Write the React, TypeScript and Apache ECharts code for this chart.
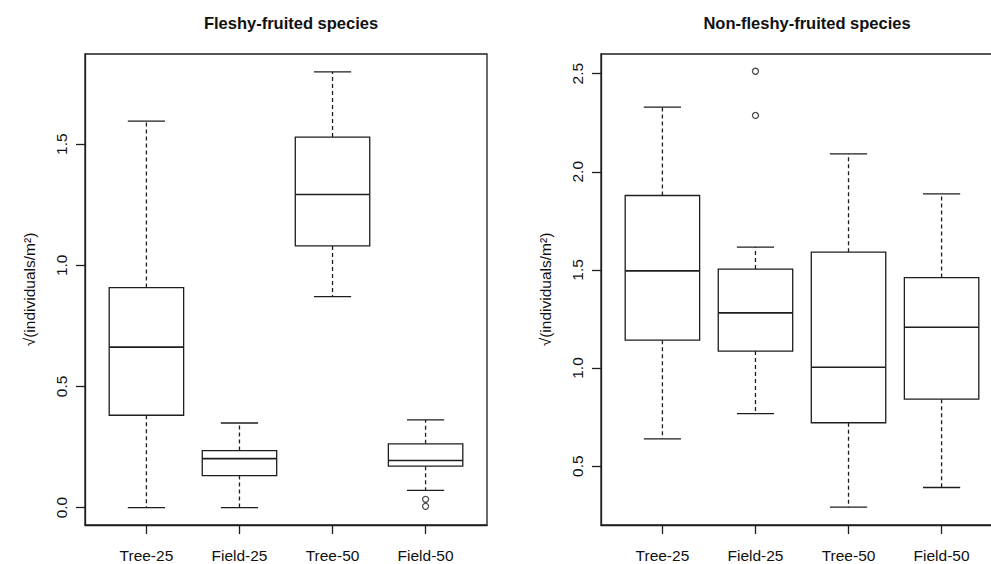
import React, { useEffect, useRef } from "react";
import * as echarts from "echarts";

const categories = ["Tree-25", "Field-25", "Tree-50", "Field-50"];

// [lower whisker, Q1, median, Q3, upper whisker]
const fleshyStats = [
  [0.0, 0.381, 0.662, 0.908, 1.595],
  [0.0, 0.132, 0.202, 0.235, 0.349],
  [0.871, 1.08, 1.292, 1.529, 1.798],
  [0.071, 0.171, 0.194, 0.263, 0.362],
];
// [category index (1-based), value]
const fleshyOutliers = [
  [4, 0.034],
  [4, 0.005],
];

const nonFleshyStats = [
  [0.639, 1.142, 1.495, 1.879, 2.329],
  [0.768, 1.086, 1.281, 1.504, 1.616],
  [0.291, 0.721, 1.004, 1.59, 2.091],
  [0.391, 0.841, 1.208, 1.461, 1.887],
];
const nonFleshyOutliers = [
  [2, 2.512],
  [2, 2.287],
];

const leftTicks = [0, 0.5, 1.0, 1.5];
const rightTicks = [0.5, 1.0, 1.5, 2.0, 2.5];
const xTicks = [1, 2, 3, 4];

const titles = ["Fleshy-fruited species", "Non-fleshy-fruited species"];
const yName = "\u221A(individuals/m\u00B2)";

const FONT = "'Liberation Sans', Arial, Helvetica, sans-serif";
const INK = "#1e1e1e";
const FS = 15.5;

function renderBox(params: any, api: any) {
  const x = api.value(0);
  const pLow = api.coord([x, api.value(1)]);
  const pQ1 = api.coord([x, api.value(2)]);
  const pMed = api.coord([x, api.value(3)]);
  const pQ3 = api.coord([x, api.value(4)]);
  const pHigh = api.coord([x, api.value(5)]);
  const unit = api.size([1, 0])[0];
  const hb = unit * 0.4;
  const hc = unit * 0.2;
  const cx = pMed[0];
  const solid = { stroke: INK, lineWidth: 1.3, fill: "none" };
  const dashed = { stroke: INK, lineWidth: 1.3, lineDash: [4, 3] };
  return {
    type: "group",
    children: [
      { type: "line", shape: { x1: cx, y1: pQ3[1], x2: cx, y2: pHigh[1] }, style: dashed },
      { type: "line", shape: { x1: cx, y1: pQ1[1], x2: cx, y2: pLow[1] }, style: dashed },
      { type: "line", shape: { x1: cx - hc, y1: pHigh[1], x2: cx + hc, y2: pHigh[1] }, style: solid },
      { type: "line", shape: { x1: cx - hc, y1: pLow[1], x2: cx + hc, y2: pLow[1] }, style: solid },
      {
        type: "rect",
        shape: { x: cx - hb, y: pQ3[1], width: 2 * hb, height: pQ1[1] - pQ3[1] },
        style: { stroke: INK, lineWidth: 1.3, fill: "#fff" },
      },
      { type: "line", shape: { x1: cx - hb, y1: pMed[1], x2: cx + hb, y2: pMed[1] }, style: { stroke: INK, lineWidth: 1.6 } },
    ],
  };
}

function toBoxData(stats: number[][]) {
  return stats.map((s, i) => [i + 1, ...s]);
}

export default function App() {
  const ref = useRef<HTMLDivElement>(null);
  useEffect(() => {
    if (!ref.current) return;
    const chart = echarts.init(ref.current, undefined, { renderer: "svg" });
    const gridCommon = {
      top: 54,
      height: 471,
      width: 402,
      show: true,
      borderColor: INK,
      borderWidth: 1.3,
      backgroundColor: "transparent",
    };
    const lineStyle = { color: INK, width: 1.3 };
    const xAxisCommon = {
      type: "value",
      min: 0.34,
      max: 4.66,
      position: "bottom",
      axisLine: { show: true, onZero: false, lineStyle },
      splitLine: { show: false },
      axisTick: { show: true, inside: false, length: 9, customValues: xTicks, lineStyle },
      axisLabel: {
        customValues: xTicks,
        formatter: (v: number) => categories[Math.round(v) - 1] ?? "",
        margin: 22,
        fontSize: FS,
        fontFamily: FONT,
        color: "#111",
      },
    };
    const yAxisCommon = (mn: number, mx: number, ticks: number[]) => ({
      type: "value",
      min: mn,
      max: mx,
      position: "left",
      axisLine: { show: true, onZero: false, lineStyle },
      splitLine: { show: false },
      axisTick: { show: true, inside: false, length: 9, customValues: ticks, lineStyle },
      axisLabel: {
        customValues: ticks,
        rotate: 90,
        formatter: (v: number) => v.toFixed(1),
        margin: 16,
        fontSize: FS,
        fontFamily: FONT,
        color: "#111",
      },
      name: yName,
      nameLocation: "middle",
      nameGap: 48,
      nameTextStyle: { fontSize: FS, fontFamily: FONT, color: "#111" },
    });
    chart.setOption({
      animation: false,
      backgroundColor: "#fff",
      title: [
        {
          text: titles[0],
          left: 286,
          top: 9,
          textAlign: "center",
          textStyle: { fontSize: 16.5, fontWeight: "bold", fontFamily: FONT, color: "#111" },
        },
        {
          text: titles[1],
          left: 802,
          top: 9,
          textAlign: "center",
          textStyle: { fontSize: 16.5, fontWeight: "bold", fontFamily: FONT, color: "#111" },
        },
      ],
      grid: [
        { ...gridCommon, left: 85 },
        { ...gridCommon, left: 601 },
      ],
      xAxis: [
        { ...xAxisCommon, gridIndex: 0 },
        { ...xAxisCommon, gridIndex: 1 },
      ],
      yAxis: [
        { ...yAxisCommon(-0.072, 1.872, leftTicks), gridIndex: 0 },
        { ...yAxisCommon(0.2, 2.6, rightTicks), gridIndex: 1 },
      ],
      series: [
        {
          type: "custom",
          xAxisIndex: 0,
          yAxisIndex: 0,
          renderItem: renderBox,
          data: toBoxData(fleshyStats),
          encode: { x: 0, y: [1, 2, 3, 4, 5] },
          silent: true,
        },
        {
          type: "custom",
          xAxisIndex: 1,
          yAxisIndex: 1,
          renderItem: renderBox,
          data: toBoxData(nonFleshyStats),
          encode: { x: 0, y: [1, 2, 3, 4, 5] },
          silent: true,
        },
        {
          type: "scatter",
          xAxisIndex: 0,
          yAxisIndex: 0,
          symbol: "circle",
          symbolSize: 6,
          itemStyle: { color: "#fff", borderColor: INK, borderWidth: 1.3 },
          data: fleshyOutliers,
          silent: true,
        },
        {
          type: "scatter",
          xAxisIndex: 1,
          yAxisIndex: 1,
          symbol: "circle",
          symbolSize: 6,
          itemStyle: { color: "#fff", borderColor: INK, borderWidth: 1.3 },
          data: nonFleshyOutliers,
          silent: true,
        },
      ],
    });
    return () => chart.dispose();
  }, []);
  return (
    <div style={{ position: "absolute", left: 0, top: 0, width: 991, height: 564, overflow: "hidden", background: "#fff" }}>
      <div ref={ref} style={{ width: 1012, height: 564 }} />
    </div>
  );
}
